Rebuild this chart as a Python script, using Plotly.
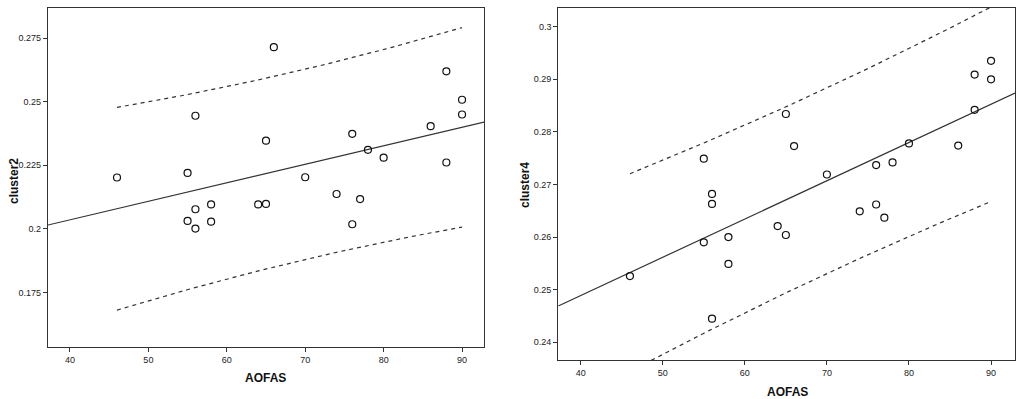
import numpy as np
import plotly.graph_objects as go

aofas = [46, 55, 55, 56, 56, 56, 58, 58, 64, 65, 65, 66, 70, 74, 76, 76, 77, 78, 80, 86, 88, 88, 90, 90]
cluster2 = [0.2202, 0.2220, 0.2031, 0.2445, 0.2077, 0.2001, 0.2096, 0.2028, 0.2096, 0.2347, 0.2098, 0.2715,
            0.2203, 0.2137, 0.2374, 0.2018, 0.2117, 0.2311, 0.2280, 0.2404, 0.2620, 0.2261, 0.2508, 0.2450]
cluster4 = [0.2526, 0.2749, 0.2590, 0.2682, 0.2663, 0.2445, 0.2600, 0.2549, 0.2621, 0.2834, 0.2604, 0.2773,
            0.2719, 0.2649, 0.2737, 0.2662, 0.2637, 0.2742, 0.2778, 0.2774, 0.2909, 0.2842, 0.2935, 0.2900]
x_ticks = [40, 50, 60, 70, 80, 90]
y2_ticks = [0.175, 0.2, 0.225, 0.25, 0.275]
y4_ticks = [0.24, 0.25, 0.26, 0.27, 0.28, 0.29, 0.3]
T_CRIT = 2.074  # t(0.975, df=22)

W, H = 1021, 399
def px(v): return v / W
def py(v): return 1 - v / H

x = np.array(aofas, float)

def fit(y):
    y = np.array(y, float)
    b, a = np.polyfit(x, y, 1)
    n = len(x)
    resid = y - (a + b * x)
    s = np.sqrt((resid ** 2).sum() / (n - 2))
    sxx = ((x - x.mean()) ** 2).sum()
    return a, b, s, n, sxx

fig = go.Figure()
panels = [
    (cluster2, "x", "y", [37.2, 92.8], [0.1535, 0.2869]),
    (cluster4, "x2", "y2", [37.27, 92.92], [0.23664, 0.30355]),
]
for yv, xa, ya, xr, yr in panels:
    a, b, s, n, sxx = fit(yv)
    xl = np.array(xr)
    fig.add_trace(go.Scatter(x=xl, y=a + b * xl, mode="lines", xaxis=xa, yaxis=ya,
                             line=dict(color="#333333", width=1.2), showlegend=False))
    xs = np.linspace(x.min(), x.max(), 60)
    half = T_CRIT * s * np.sqrt(1 + 1 / n + (xs - x.mean()) ** 2 / sxx)
    for sign in (1, -1):
        fig.add_trace(go.Scatter(x=xs, y=a + b * xs + sign * half, mode="lines", xaxis=xa, yaxis=ya,
                                 line=dict(color="#333333", width=1.2, dash="4px,4px"), showlegend=False))
    fig.add_trace(go.Scatter(x=aofas, y=yv, mode="markers", xaxis=xa, yaxis=ya, showlegend=False,
                             marker=dict(symbol="circle-open", size=7, color="#111111", line=dict(width=1.2))))

axcommon = dict(showgrid=False, zeroline=False, showline=True, linecolor="#333333", linewidth=1.2,
                mirror=True, ticks="outside", ticklen=4, tickcolor="#333333",
                tickfont=dict(family="Liberation Sans, Arial", size=9, color="#222222"))

fig.update_layout(
    width=W, height=H, margin=dict(l=0, r=0, t=0, b=0),
    paper_bgcolor="white", plot_bgcolor="white",
    xaxis=dict(domain=[px(48), px(484)], range=[37.2, 92.8], tickvals=x_ticks, anchor="y", **axcommon),
    yaxis=dict(domain=[py(347), py(8)], range=[0.1535, 0.2869], tickvals=y2_ticks,
               ticktext=[f"{v:g}" for v in y2_ticks], anchor="x", **axcommon),
    xaxis2=dict(domain=[px(558.3), px(1015)], range=[37.27, 92.92], tickvals=x_ticks, anchor="y2", **axcommon),
    yaxis2=dict(domain=[py(360), py(8)], range=[0.23664, 0.30355], tickvals=y4_ticks,
                ticktext=[f"{v:g}" for v in y4_ticks], anchor="x2", **axcommon),
)

tfont = dict(family="Liberation Sans, Arial", size=12, color="#111111")
titles = [
    ("<b>AOFAS</b>", 265, 378, 0),
    ("<b>AOFAS</b>", 787, 392, 0),
    ("<b>cluster2</b>", 14, 181, -90),
    ("<b>cluster4</b>", 525, 185, -90),
]
for txt, tx, ty, ang in titles:
    fig.add_annotation(text=txt, x=px(tx), y=py(ty), xref="paper", yref="paper",
                       xanchor="center", yanchor="middle", showarrow=False,
                       textangle=ang, font=tfont)

fig.write_html("out.html", config={"displayModeBar": False},
               post_script="document.body.style.margin='0';document.body.style.overflow='hidden';")
